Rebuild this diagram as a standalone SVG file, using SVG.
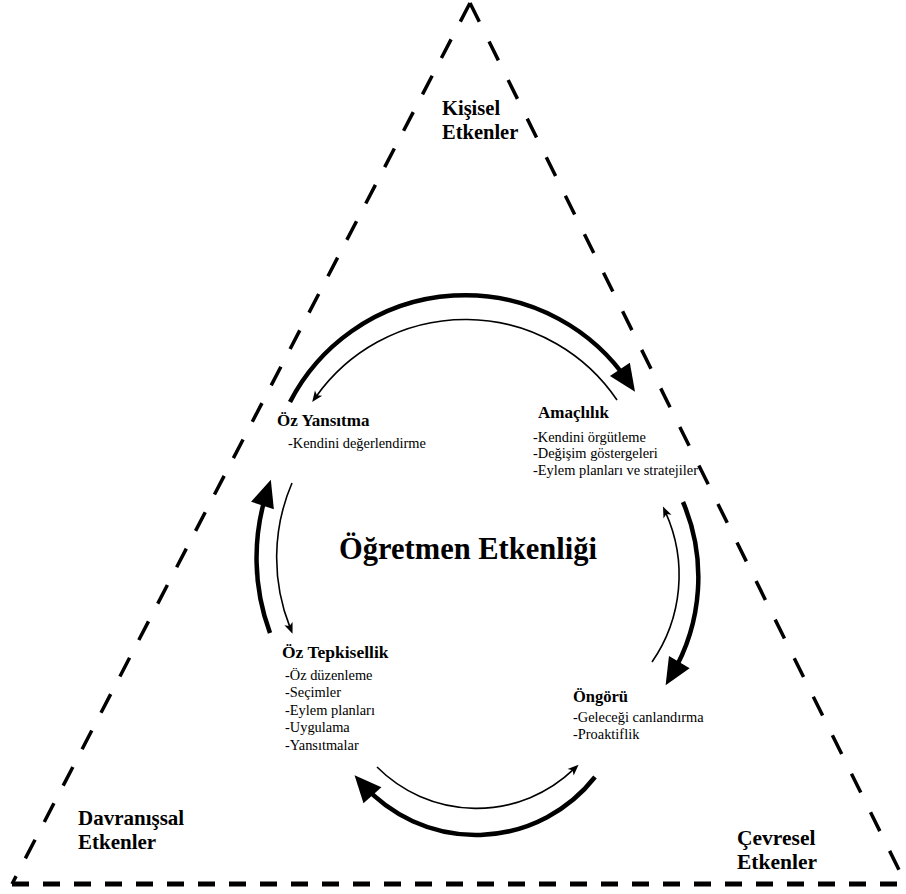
<svg xmlns="http://www.w3.org/2000/svg" width="906" height="894" viewBox="0 0 906 894">
<style>
  text { font-family: "Liberation Serif", "Times New Roman", serif; fill: #000; }
  .b { font-weight: bold; }
  .corner { font-weight: bold; font-size: 21px; }
  .head { font-weight: bold; font-size: 17px; }
  .item { font-size: 14.4px; }
  .tri { stroke: #000; fill: none; stroke-linecap: butt; }
  .thick { stroke: #000; stroke-width: 4.5; fill: none; marker-end: url(#headBig); }
  .thin { stroke: #000; stroke-width: 1.6; fill: none; marker-end: url(#headSmall); }
</style>
<defs>
  <marker id="headBig" markerUnits="userSpaceOnUse" markerWidth="28" markerHeight="26" refX="15" refY="12" orient="auto" viewBox="0 0 28 24" overflow="visible">
    <path d="M0,0 L27,12 L0,24 z" fill="#000"/>
  </marker>
  <marker id="headSmall" markerUnits="userSpaceOnUse" markerWidth="11" markerHeight="9" refX="4" refY="4" orient="auto" viewBox="0 0 10 8" overflow="visible">
    <path d="M0,0 L10,4 L0,8 L2.5,4 z" fill="#000"/>
  </marker>
</defs>
<rect width="906" height="894" fill="#fff"/>

<g id="triangle">
  <line class="tri" x1="470" y1="3" x2="12" y2="884" stroke-width="3.5" stroke-dasharray="21 20"/>
  <line class="tri" x1="470" y1="3" x2="906" y2="884" stroke-width="3.5" stroke-dasharray="21 22"/>
  <line class="tri" x1="12" y1="884" x2="906" y2="884" stroke-width="5" stroke-dasharray="17 14"/>
</g>

<g id="connectors">
  <path class="thick" d="M290,402 A197,197 0 0 1 628.3,381.8"/>
  <path class="thin" d="M617,400 A183,183 0 0 0 316,396.7"/>
  <path class="thick" d="M270,633 A216,216 0 0 1 267.1,491.2"/>
  <path class="thin" d="M292,483 A189,189 0 0 0 290.1,627.6"/>
  <path class="thick" d="M683,502 A192.5,192.5 0 0 1 671.7,675"/>
  <path class="thin" d="M652,662 A152.7,152.7 0 0 0 665.7,512.6"/>
  <path class="thick" d="M595,777 A151.5,151.5 0 0 1 362.5,784.1"/>
  <path class="thin" d="M377,767 A140.4,140.4 0 0 0 573.8,769.2"/>
</g>

<g id="kisisel">
  <text class="corner" x="442" y="115" style="font-size:20.5px">Kişisel</text>
  <text class="corner" x="442" y="139" style="font-size:20.5px">Etkenler</text>
</g>
<g id="davranissal">
  <text class="corner" x="78" y="825">Davranışsal</text>
  <text class="corner" x="78" y="849">Etkenler</text>
</g>
<g id="cevresel">
  <text class="corner" x="737" y="845" style="font-size:21.5px">Çevresel</text>
  <text class="corner" x="737" y="869" style="font-size:21.5px">Etkenler</text>
</g>

<g id="title">
  <text class="b" x="468" y="559" text-anchor="middle" style="font-size:30.5px">Öğretmen Etkenliği</text>
</g>

<g id="oz-yansitma">
  <text class="head" x="277" y="426">Öz Yansıtma</text>
  <text class="item" x="288" y="448">-Kendini değerlendirme</text>
</g>

<g id="amaclilik">
  <text class="head" x="538" y="418">Amaçlılık</text>
  <text class="item" x="533" y="442">-Kendini örgütleme</text>
  <text class="item" x="533" y="458">-Değişim göstergeleri</text>
  <text class="item" x="533" y="475">-Eylem planları ve stratejiler</text>
</g>

<g id="ongoru">
  <text class="head" x="573" y="702" style="font-size:16.5px">Öngörü</text>
  <text class="item" x="573" y="722">-Geleceği canlandırma</text>
  <text class="item" x="573" y="739">-Proaktiflik</text>
</g>

<g id="oz-tepkisellik">
  <text class="head" x="282" y="658" style="font-size:17.5px">Öz Tepkisellik</text>
  <text class="item" x="285" y="680">-Öz düzenleme</text>
  <text class="item" x="285" y="697">-Seçimler</text>
  <text class="item" x="285" y="715">-Eylem planları</text>
  <text class="item" x="285" y="732">-Uygulama</text>
  <text class="item" x="285" y="750">-Yansıtmalar</text>
</g>
</svg>
